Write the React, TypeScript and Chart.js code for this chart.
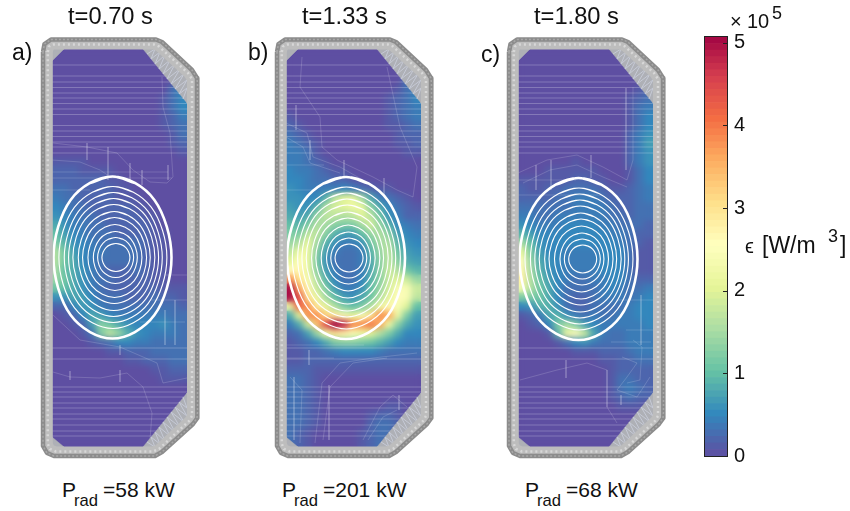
import React, { useEffect, useRef } from "react";
import { Chart, registerables } from "chart.js";

Chart.register(...registerables);

type XY = [number, number];

// Spectral colour stops, low to high
const spectral = ["#5e4fa2", "#3288bd", "#66c2a5", "#abdda4", "#e6f598", "#ffffbf", "#fee08b", "#fdae61", "#f46d43", "#d53e4f", "#9e0142"];
const colorbarMax = 5.07;
const colorbarLevels = 64;
const colorbarTicks = [0, 1, 2, 3, 4, 5];

// Emissivity in units of 1e4 W/m^3, rows top to bottom, 15 columns (a missing tail is 0)
const heatA: number[][] = [
  [], [], [], [],
  [0,0,0,0,0,0,0,0,0,0,0,0,0,3,5],
  [0,0,0,0,0,0,0,0,0,0,0,0,1,3,5],
  [0,0,0,0,0,0,0,0,0,0,0,0,1,3,5],
  [0,0,0,0,0,0,0,0,0,0,0,0,1,2,4],
  [0,0,0,0,0,0,0,0,0,0,0,0,1,2,3],
  [0,0,0,0,0,0,0,0,0,0,0,0,0,1,3],
  [0,0,0,0,0,0,0,0,0,0,0,0,0,1,2],
  [0,0,0,0,0,0,0,0,0,0,0,0,0,0,1],
  [1,1,1,1],
  [2,2,2,1,1,1,1],
  [2,2,2,2,2,2,1,1],
  [3,3,2,2,2,2,2,1,1],
  [4,3,3,2,2,2,2,1,1,1],
  [5,4,3,3,2,2,2,2,2,1,1],
  [6,5,4,3,3,2,2,2,2,2,1,1],
  [8,6,4,4,3,3,2,2,2,2,2,1],
  [10,7,5,4,3,3,3,2,2,2,2,1,1],
  [12,9,6,5,4,3,3,3,3,3,2,1,1],
  [16,11,7,5,4,4,3,3,3,3,2,1,1],
  [16,11,8,5,4,3,3,3,3,3,2,1,1],
  [15,10,8,6,4,3,2,2,2,3,2,1,1],
  [14,11,8,6,4,3,3,2,2,2,2,1,1],
  [11,10,8,6,4,3,2,2,2,2,2,2,1,1,1],
  [6,6,8,7,5,3,3,3,2,2,2,3,2,2,1],
  [2,2,5,7,6,4,3,3,3,3,3,3,3,3,2],
  [0,1,2,5,8,7,5,4,4,4,4,4,4,3,3],
  [0,0,1,2,7,13,11,8,6,5,5,5,6,4,3],
  [0,0,0,1,3,12,17,14,9,6,5,4,4,4,3],
  [0,0,0,0,1,2,3,5,5,4,4,3,3,3,3],
  [0,0,0,0,0,0,1,1,2,2,2,3,3,3,3],
  [0,0,0,0,0,0,0,0,1,1,2,2,2,3,3],
  [0,0,0,0,0,0,0,0,0,0,0,1,1,2,2],
  [0,0,0,0,0,0,0,0,0,0,0,0,1,1,1],
  [], [], [], [], [], [], [],
];

const heatB: number[][] = [
  [], [], [],
  [0,0,0,0,0,0,0,0,0,0,0,0,0,3,4],
  [0,0,0,0,0,0,0,0,0,0,0,0,1,3,4],
  [0,0,0,0,0,0,0,0,0,0,0,1,2,3,5],
  [0,0,0,0,0,0,0,0,0,0,0,1,2,3,4],
  [1,0,0,0,0,0,0,0,0,0,0,1,2,3,4],
  [2,1,0,0,0,0,0,0,0,0,0,1,1,2,3],
  [3,2,1,0,0,0,0,0,0,0,0,0,1,2,2],
  [4,3,2,1,0,0,0,0,0,0,0,0,1,1,2],
  [4,4,3,1,0,0,0,0,0,0,0,0,0,1,1],
  [4,4,3,2,1],
  [5,4,4,3,2,1,1],
  [5,5,4,3,3,2,2,1],
  [6,5,4,4,4,4,5,4,3,2,1,1],
  [6,6,5,5,9,17,20,21,15,8,4,3,2,1],
  [7,6,6,9,16,19,20,22,21,13,8,5,3,2,1],
  [8,7,8,14,17,17,16,17,20,17,11,6,4,2,2],
  [10,9,12,16,15,13,12,12,15,19,14,9,5,4,3],
  [12,12,17,17,13,9,7,7,10,14,16,13,7,5,4],
  [14,16,21,15,9,6,4,4,6,11,15,16,9,6,5],
  [17,22,22,13,7,4,3,3,4,9,14,17,11,7,6],
  [20,25,22,12,6,3,3,3,4,8,13,17,13,8,7],
  [26,27,22,13,7,4,3,3,4,8,13,18,16,11,9],
  [38,30,24,16,9,5,3,3,5,9,13,18,20,18,14],
  [50,36,27,18,12,7,4,4,6,10,14,19,24,24,18],
  [50,44,30,22,15,10,7,6,8,11,16,21,26,24,17],
  [22,42,38,29,21,16,12,10,12,16,22,27,24,20,10],
  [8,20,38,38,32,29,24,21,24,30,38,36,22,12,7],
  [4,8,18,34,44,51,48,38,38,40,36,22,13,8,6],
  [2,3,7,14,22,30,28,24,22,20,16,12,8,5,5],
  [1,2,3,5,8,12,13,13,12,11,9,7,5,4,4],
  [1,1,2,2,3,4,5,5,5,5,4,3,3,3,3],
  [1,1,2,2,2,2,2,2,2,2,2,2,2,2,2],
  [2,2,2,1,1,1,1,1,1,1,1,1,1,1,1],
  [3,3,2,1],
  [3,3,2,1],
  [3,3,2,1],
  [3,3,2,1,0,0,0,0,0,0,0,1,1],
  [3,3,2,1,0,0,0,0,0,1,2,2,1],
  [3,3,2,1,0,0,0,0,0,2,3,3,2],
  [3,2,1,0,0,0,0,0,1,2,3,3],
  [3,2,1,0,0,0,0,0,1,2,3,2],
];

const heatC: number[][] = [
  [], [], [], [],
  [0,0,0,0,0,0,0,0,0,0,0,0,0,1,2],
  [0,0,0,0,0,0,0,0,0,0,0,0,1,2,3],
  [0,0,0,0,0,0,0,0,0,0,0,0,1,3,4],
  [0,0,0,0,0,0,0,0,0,0,0,0,1,3,5],
  [0,0,0,0,0,0,0,0,0,0,0,0,1,3,5],
  [0,0,0,0,0,0,0,0,0,0,0,0,2,4,6],
  [0,0,0,0,0,0,0,0,0,0,0,0,2,4,7],
  [0,0,0,0,0,0,0,0,0,0,0,0,2,4,6],
  [0,0,0,0,0,0,1,0,0,0,0,0,2,4,6],
  [0,0,0,1,1,1,1,1,1,0,0,0,1,3,5],
  [1,1,1,1,1,1,2,2,1,1,0,0,1,3,5],
  [2,1,1,2,2,3,3,3,3,2,1,1,2,3,4],
  [2,2,2,2,3,3,4,4,4,3,2,2,2,3,4],
  [3,3,3,3,3,3,4,4,4,4,3,2,2,3,3],
  [4,4,3,3,4,4,4,4,4,4,3,3,2,3,3],
  [6,5,4,4,4,5,5,5,5,4,4,3,3,3,2],
  [9,7,5,5,5,5,5,5,5,5,4,4,3,2,2],
  [15,10,6,5,5,5,5,5,5,5,5,4,3,2,1],
  [21,12,7,5,5,4,4,4,4,5,5,5,3,1,1],
  [26,14,8,6,5,4,4,4,4,5,5,5,3,1,1],
  [27,15,9,6,5,4,4,4,4,5,5,5,3,1,1],
  [28,16,10,7,5,4,3,3,4,4,5,5,3,2,2],
  [23,16,11,8,5,3,3,3,3,4,5,4,3,3,4],
  [12,12,11,8,5,3,2,2,3,4,4,4,3,4,5],
  [5,6,9,9,6,3,2,2,3,3,3,3,4,5,5],
  [1,2,4,8,9,6,4,3,4,3,3,4,4,5,5],
  [0,1,2,5,12,15,12,7,5,4,4,4,4,4,5],
  [0,0,0,1,9,22,26,18,8,4,3,3,4,4,4],
  [0,0,0,0,1,3,5,6,4,3,3,3,4,4,4],
  [0,0,0,0,0,0,1,1,1,2,2,2,3,4,4],
  [0,0,0,0,0,0,0,0,0,1,1,2,2,3,3],
  [0,0,0,0,0,0,0,0,0,0,1,2,2,2,2],
  [0,0,0,0,0,0,0,0,0,0,1,3,3,2,2],
  [0,0,0,0,0,0,0,0,0,0,1,3,4,3,2],
  [0,0,0,0,0,0,0,0,0,0,1,2,3,2,2],
  [0,0,0,0,0,0,0,0,0,0,0,1,1,1],
  [], [], [], [],
];

// Flux surfaces: radii of each nested contour and a closed unit curve (wraps past its start)
const contourRx = [59, 54, 49, 45, 41, 36, 32, 27, 22, 18, 14];
const contourRy = [81, 71, 65, 59, 53, 46, 40, 33, 26, 20, 14];
const unitX = [-0.38, 0, 0.38, 0.71, 0.92, 1, 0.92, 0.71, 0.38, 0, -0.38, -0.71, -0.92, -1, -0.92, -0.71, -0.38, 0, 0.38];
const unitY = [-0.92, -1, -0.92, -0.71, -0.38, 0, 0.38, 0.71, 0.92, 1, 0.92, 0.71, 0.38, 0, -0.38, -0.71, -0.92, -1, -0.92];

// Vessel wall paths
const wallOuter: XY[] = [[43,52],[44.5,44],[51,39.5],[156,39.5],[162,42],[192,70],[197,78],[197.5,85],[197.5,412],[197,418],[193,424],[162,452],[155,456],[54,456],[47,453],[43,446],[43,52]];
const wallInner: XY[] = [[47.8,52],[49,46.5],[53,44.5],[154,44.5],[159,46.5],[188,73],[192,79],[192,416],[189,421],[159,449],[153,451.5],[56,451.5],[50,449],[47.8,444],[47.8,52]];
const cornerShapes: XY[][] = [
  [[52,49],[64,49],[52,61],[52,49]],
  [[52,437],[64,447],[52,447],[52,437]],
  [[143,49],[157,49],[187,76],[187,103],[143,49]],
  [[187,393],[187,420],[157,447],[143,447],[187,393]],
];
const heatOutline: XY[] = [[52,49],[157,49],[187,76],[187,420],[157,447],[52,447]];
const hatchTop: XY[] = [[147,54],[155,49],[151,59],[160,52],[155,64],[165,55],[159,69],[170,60],[163,74],[175,64],[167,79],[180,69],[171,84],[184,74],[175,89],[187,80],[179,94],[187,88],[183,99]];
const hatchBottom: XY[] = [[147,442],[155,447],[151,437],[160,444],[155,432],[165,441],[159,427],[170,436],[163,422],[175,432],[167,417],[180,427],[171,412],[184,422],[175,407],[187,416],[179,402],[187,408],[183,397]];

// Horizontal chord lines
const chordY = [65, 76, 82, 87.5, 93, 98, 103.5, 109, 114.5, 125.5, 131, 136.5, 142, 147, 153, 348, 359, 387, 392, 397, 403, 408, 414, 419, 425, 431, 436];

const contoursA: XY[][] = [
  [[53,143],[87,147],[117,153],[133,170],[150,182],[167,183],[173,177],[170,133],[163,107],[162,77]],
  [[52,160],[80,162],[100,170],[112,178]],
  [[53,372],[70,377],[100,378],[127,373],[143,387],[152,413],[150,440]],
  [[53,315],[80,340],[120,347],[157,363],[163,383],[187,378]],
  [[52,172],[168,172]], [[52,178],[172,178]], [[52,190],[90,190]],
  [[87,143],[87,160]], [[108,147],[108,180]], [[130,163],[130,180]], [[142,170],[142,185]], [[168,165],[168,180]],
  [[165,275],[187,275]], [[150,300],[187,300]], [[140,322],[185,322]], [[120,345],[120,355]], [[70,371],[70,380]], [[120,370],[120,382]],
  [[175,300],[175,345]], [[165,310],[165,345]],
];
const contoursB: XY[][] = [
  [[68,57],[66,87],[86,117],[88,147],[103,160],[139,177],[163,190],[179,197],[183,167],[166,127],[153,67]],
  [[52,123],[73,133],[79,157],[106,167],[129,180]],
  [[52,137],[69,147],[76,163],[106,173]],
  [[81,443],[88,383],[106,363],[139,358],[183,353]],
  [[89,440],[96,387],[119,363],[153,358]],
  [[129,440],[146,407],[159,395],[173,407]],
  [[134,440],[149,417],[163,410]],
  [[56,377],[68,390],[66,443]],
  [[52,165],[90,165]], [[52,190],[80,190]], [[62,105],[62,130]], [[76,140],[76,160]], [[110,160],[110,178]], [[150,178],[150,195]],
  [[52,345],[130,345]], [[52,358],[100,358]], [[95,385],[95,440]], [[75,350],[75,365]], [[165,395],[165,410]], [[60,377],[60,440]],
];
const contoursC: XY[][] = [
  [[52,173],[81,160],[111,155],[137,167],[161,180],[167,160],[167,87]],
  [[57,183],[84,170],[111,165],[137,177],[161,187]],
  [[54,380],[91,370],[121,363],[141,370],[141,407],[151,423]],
  [[156,357],[171,363],[161,377],[151,390],[171,397],[184,377]],
  [[161,383],[174,380],[176,347],[167,340]],
  [[52,195],[135,195]], [[52,180],[110,180]], [[70,165],[70,190]], [[85,160],[85,190]], [[125,155],[125,178]], [[160,88],[160,170]],
  [[150,300],[187,300]], [[160,330],[187,330]], [[145,342],[185,342]], [[100,360],[100,378]], [[175,295],[175,345]], [[155,395],[155,405]],
];

const panels = [
  { heat: heatA, offset: 0, cx: 112.5, innerCx: 117, cy: 257.5, contours: contoursA },
  { heat: heatB, offset: 234, cx: 112, innerCx: 116, cy: 258, contours: contoursB },
  { heat: heatC, offset: 466, cx: 112.5, innerCx: 118, cy: 259, contours: contoursC },
];

const labels = [
  { x: 68, base: 25, size: 23.7, text: "t=0.70 s" },
  { x: 302, base: 25, size: 23.7, text: "t=1.33 s" },
  { x: 534, base: 25, size: 23.7, text: "t=1.80 s" },
  { x: 12, base: 60, size: 23, text: "a)" },
  { x: 248, base: 60, size: 23, text: "b)" },
  { x: 481, base: 62, size: 23, text: "c)" },
  { x: 62, base: 497, size: 21, text: "P" },
  { x: 74, base: 507, size: 16.6, text: "rad" },
  { x: 103, base: 497, size: 21, text: "=58 kW" },
  { x: 282, base: 497, size: 21, text: "P" },
  { x: 294, base: 507, size: 16.6, text: "rad" },
  { x: 323, base: 497, size: 21, text: "=201 kW" },
  { x: 525, base: 497, size: 21, text: "P" },
  { x: 537, base: 507, size: 16.6, text: "rad" },
  { x: 566, base: 497, size: 21, text: "=68 kW" },
  { x: 730, base: 28, size: 20, text: "×" },
  { x: 747, base: 28, size: 20, text: "10" },
  { x: 772, base: 19, size: 18, text: "5" },
  { x: 745, base: 253, size: 20, text: "ϵ" },
  { x: 762, base: 253, size: 23, text: "[W/m" },
  { x: 828, base: 242, size: 18, text: "3" },
  { x: 840, base: 253, size: 23, text: "]" },
];

function hexRgb(h: string) {
  return [1, 3, 5].map((i) => parseInt(h.slice(i, i + 2), 16));
}
function colorFor(v: number) {
  const t = Math.min(1, Math.max(0, v / 5.1)) * (spectral.length - 1);
  const i = Math.min(spectral.length - 2, Math.floor(t));
  const a = hexRgb(spectral[i]);
  const b = hexRgb(spectral[i + 1]);
  const f = t - i;
  return `rgb(${a.map((c, k) => Math.round(c + (b[k] - c) * f)).join(",")})`;
}
const pts = (p: XY[]) => p.map(([x, y]) => ({ x, y }));
const gapJoin = (list: XY[][]) => list.flatMap((p) => [...pts(p), { x: NaN, y: NaN }]);

const blurHeat = {
  id: "blurHeat",
  afterDatasetDraw(chart: any, args: any) {
    if (chart.data.datasets[args.index].label !== "emissivity") return;
    const { ctx, scales } = chart;
    ctx.save();
    ctx.setTransform(1, 0, 0, 1, 0, 0);
    ctx.filter = "blur(3.2px)";
    ctx.drawImage(chart.canvas, 0, 0);
    ctx.filter = "none";
    // keep the field inside the vessel's interior
    ctx.globalCompositeOperation = "destination-in";
    ctx.beginPath();
    heatOutline.forEach(([x, y], i) => {
      const px = scales.x.getPixelForValue(x);
      const py = scales.y.getPixelForValue(y);
      if (i === 0) ctx.moveTo(px, py);
      else ctx.lineTo(px, py);
    });
    ctx.closePath();
    ctx.fill();
    ctx.restore();
  },
};

const colorbarFrame = {
  id: "colorbarFrame",
  afterDraw(chart: any) {
    const { ctx, chartArea: a, scales } = chart;
    ctx.save();
    ctx.strokeStyle = "#222";
    ctx.lineWidth = 1;
    ctx.strokeRect(a.left - 0.5, a.top - 0.5, a.right - a.left + 1, a.bottom - a.top + 1);
    colorbarTicks.forEach((t) => {
      const y = Math.round(scales.y.getPixelForValue(t)) + 0.5;
      ctx.beginPath();
      ctx.moveTo(a.right - 4, y);
      ctx.lineTo(a.right, y);
      ctx.stroke();
    });
    ctx.restore();
  },
};

function line(label: string, data: any[], color: string, width: number, extra: any = {}) {
  return { label, data, showLine: true, pointRadius: 0, borderColor: color, borderWidth: width, borderJoinStyle: "round", fill: false, ...extra };
}

function Panel({ p }: { p: (typeof panels)[number] }) {
  const ref = useRef<HTMLCanvasElement>(null);
  useEffect(() => {
    const cells: any[] = [];
    const colors: string[] = [];
    p.heat.forEach((row, j) => {
      for (let i = 0; i < 15; i++) {
        const v = row[i] ?? 0;
        cells.push({ x: 56.5 + 9 * i, y: 49 + 9.05 * (j + 0.5), v });
        colors.push(colorFor(v / 10));
      }
    });
    const flux = contourRx.map((rx, k) => {
      const c = p.cx + (p.innerCx - p.cx) * (1 - rx / contourRx[0]);
      return unitX.map((u, n) => ({ x: c + u * rx, y: p.cy + unitY[n] * contourRy[k] }));
    });
    const chords: XY[][] = chordY.map((y) => [[52, y], [187, y]]);
    const datasets: any[] = [
      line("wall dots", pts(wallOuter), "#a8a8a8", 1.5, { borderDash: [2, 2] }),
      line("wall", pts(wallOuter), "#8c8c8c", 4.5),
      line("wall inner dots", pts(wallInner), "#d8d8d8", 2.5, { borderDash: [2, 3] }),
      line("wall inner", pts(wallInner), "#bdbdbd", 10),
      line("hatch top", pts(hatchTop), "#c6cad6", 1),
      line("hatch bottom", pts(hatchBottom), "#c6cad6", 1),
      ...cornerShapes.map((s, i) =>
        line(`corner ${i}`, pts(s), "#aeb0b6", 0.5, { fill: "shape", backgroundColor: "#aeb0b6" }),
      ),
      ...flux.map((f, k) =>
        line(`flux ${k}`, f, "#ffffff", k === 0 ? 2.6 : 1.1, { tension: 0.35 }),
      ),
      line("chords", gapJoin(chords), "rgba(255,255,255,0.24)", 1),
      line("contours", gapJoin(p.contours), "rgba(255,255,255,0.16)", 1),
      {
        label: "emissivity",
        data: cells,
        showLine: false,
        pointStyle: "rect",
        pointRadius: 7.4,
        pointBorderWidth: 0,
        pointBackgroundColor: colors,
      },
    ];
    const chart = new Chart(ref.current!, {
      type: "scatter",
      data: { datasets },
      options: {
        animation: false,
        responsive: false,
        events: [],
        layout: { padding: 0, autoPadding: false },
        scales: {
          x: { type: "linear", display: false, min: 30, max: 210 },
          y: { type: "linear", display: false, min: 25, max: 465, reverse: true },
        },
        plugins: { legend: { display: false }, tooltip: { enabled: false }, title: { display: false } },
      },
      plugins: [blurHeat],
    } as any);
    return () => chart.destroy();
  }, [p]);
  return (
    <canvas
      ref={ref}
      width={180}
      height={440}
      style={{ position: "absolute", left: 30 + p.offset, top: 25, width: 180, height: 440 }}
    />
  );
}

function Colorbar() {
  const ref = useRef<HTMLCanvasElement>(null);
  useEffect(() => {
    const step = colorbarMax / colorbarLevels;
    const datasets = Array.from({ length: colorbarLevels }, (_, i) => ({
      label: `level ${i}`,
      data: [step],
      backgroundColor: colorFor((i + 0.5) * step),
      borderWidth: 0,
      barPercentage: 1,
      categoryPercentage: 1,
      stack: "bar",
    }));
    const chart = new Chart(ref.current!, {
      type: "bar",
      data: { labels: ["emissivity"], datasets },
      options: {
        animation: false,
        responsive: false,
        events: [],
        layout: { padding: { left: 5, top: 7, bottom: 14, right: 0 }, autoPadding: false },
        scales: {
          x: { display: false, stacked: true },
          y: {
            position: "right",
            stacked: true,
            min: 0,
            max: colorbarMax,
            afterFit: (s: any) => {
              s.width = 33;
              s.paddingTop = 0;
              s.paddingBottom = 0;
            },
            afterBuildTicks: (s: any) => {
              s.ticks = colorbarTicks.map((value) => ({ value }));
            },
            grid: { display: false, drawTicks: false },
            border: { display: false },
            ticks: {
              padding: 7,
              color: "#111",
              font: { family: "'Liberation Sans', Arial, sans-serif", size: 20 },
            },
          },
        },
        plugins: { legend: { display: false }, tooltip: { enabled: false } },
      },
      plugins: [colorbarFrame],
    } as any);
    return () => chart.destroy();
  }, []);
  return (
    <canvas
      ref={ref}
      width={60}
      height={440}
      style={{ position: "absolute", left: 700, top: 30, width: 60, height: 440 }}
    />
  );
}

export default function App() {
  useEffect(() => {
    document.body.style.margin = "0";
  }, []);
  return (
    <div style={{ position: "fixed", left: 0, top: 0, width: 850, height: 511, background: "#fff", overflow: "hidden" }}>
      {panels.map((p) => (
        <Panel key={p.offset} p={p} />
      ))}
      <Colorbar />
      {labels.map((l, i) => (
        <div
          key={i}
          style={{
            position: "absolute",
            left: l.x,
            top: l.base - 0.8465 * l.size,
            fontFamily: "'Liberation Sans', Arial, sans-serif",
            fontSize: l.size,
            lineHeight: `${l.size}px`,
            color: "#111",
            whiteSpace: "pre",
          }}
        >
          {l.text}
        </div>
      ))}
    </div>
  );
}
